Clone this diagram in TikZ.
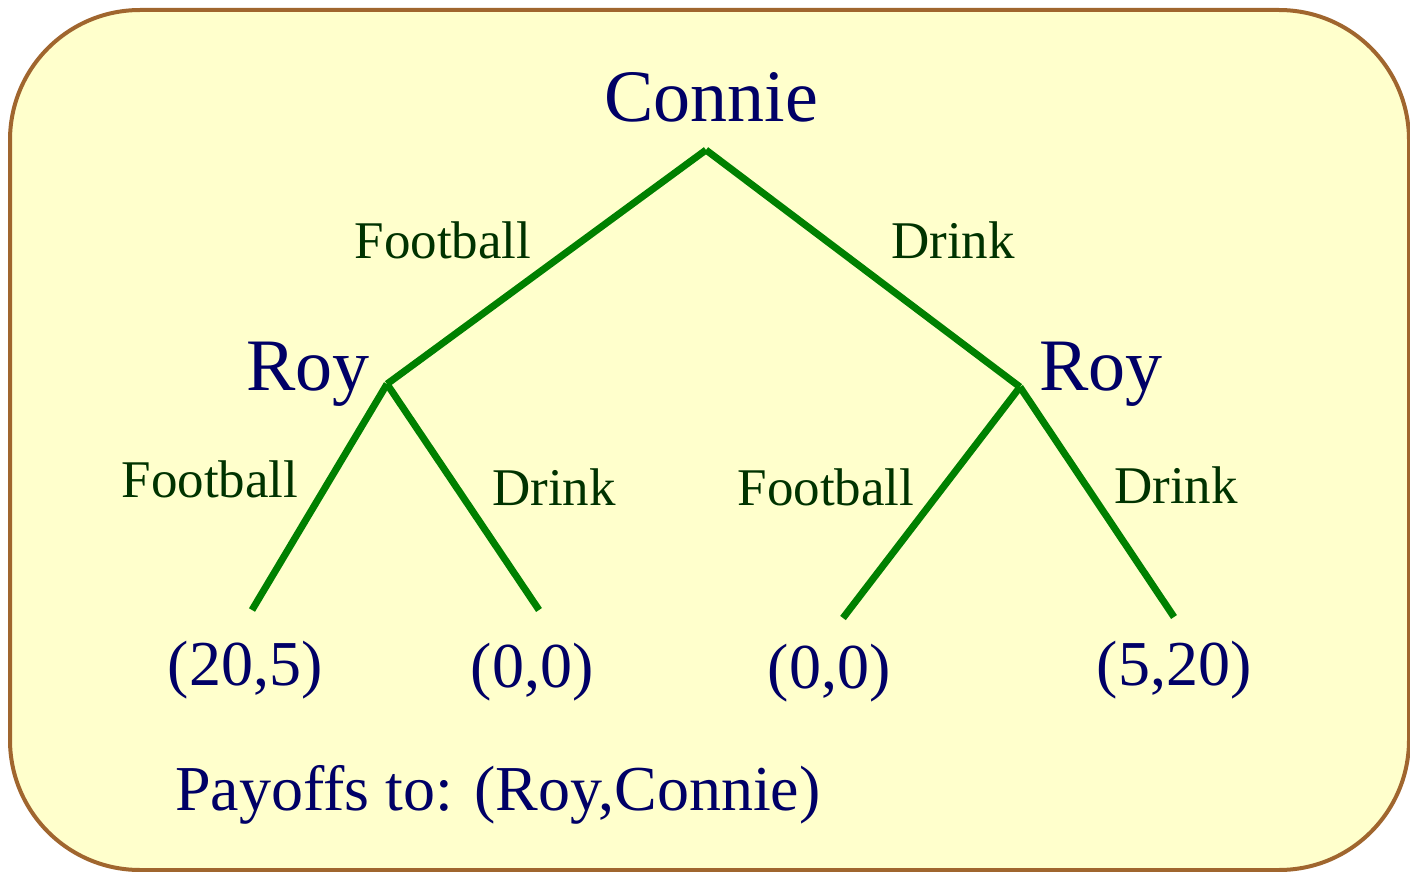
\documentclass[tikz,border=0pt]{standalone}
\usepackage{fontspec}
\setmainfont{Liberation Serif}
\definecolor{panelfill}{HTML}{FFFFCC}
\definecolor{panelrim}{HTML}{A0662E}
\definecolor{navy}{HTML}{000066}
\definecolor{movegreen}{HTML}{003300}
\definecolor{branch}{HTML}{008000}
\tikzset{
  player/.style={text=navy, font=\fontsize{37}{44}\selectfont, anchor=base, inner sep=0pt},
  move/.style={text=movegreen, font=\fontsize{26.5}{32}\selectfont, anchor=base, inner sep=0pt},
  payoff/.style={text=navy, font=\fontsize{32}{38}\selectfont, anchor=base, inner sep=0pt},
  edge/.style={draw=branch, line width=3.5pt},
}
\begin{document}
\begin{tikzpicture}[x=0.5pt, y=-0.5pt]
\useasboundingbox (0,0) rectangle (1410,872);
% panel
\draw[panelrim, fill=panelfill, line width=2pt, rounded corners=65pt] (10,10) rectangle (1409,870);

% decision points and leaves
\coordinate (root) at (706,150);
\coordinate (rl) at (387,384);
\coordinate (rr) at (1020,387);
\coordinate (l1) at (252,610);
\coordinate (l2) at (539,610);
\coordinate (l3) at (843,618);
\coordinate (l4) at (1174,617);

% branches
\draw[edge] (root) -- (rl);
\draw[edge] (root) -- (rr);
\draw[edge] (rl) -- (l1);
\draw[edge] (rl) -- (l2);
\draw[edge] (rr) -- (l3);
\draw[edge] (rr) -- (l4);

% players
\node[player] (connie) at (711,122) {Connie};
\node[player] (royl) at (308,390) {Roy};
\node[player] (royr) at (1101,390) {Roy};

% moves
\node[move] (mf) at (443,258) {Football};
\node[move] (md) at (953,258) {Drink};
\node[move] (mlf) at (210,497) {Football};
\node[move] (mld) at (554,505) {Drink};
\node[move] (mrf) at (826,505) {Football};
\node[move] (mrd) at (1176,503) {Drink};

% payoffs
\node[payoff] (p1) at (245,685) {(20,5)};
\node[payoff] (p2) at (532,687) {(0,0)};
\node[payoff] (p3) at (829,688) {(0,0)};
\node[payoff] (p4) at (1174,685) {(5,20)};
\node[payoff] (legend) at (498,810) {Payoffs to: (Roy,Connie)};
\end{tikzpicture}
\end{document}
